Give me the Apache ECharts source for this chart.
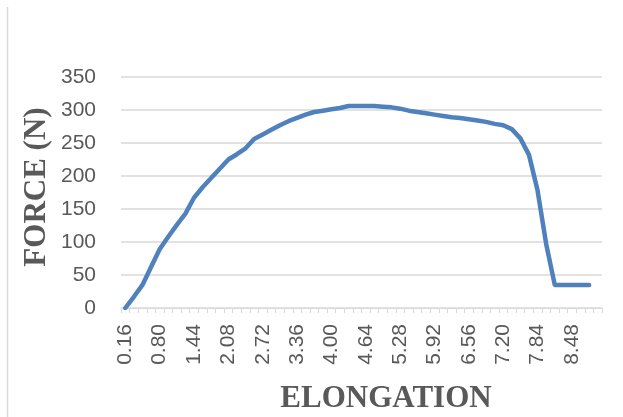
<!DOCTYPE html>
<html>
<head>
<meta charset="utf-8">
<script src="https://cdn.jsdelivr.net/npm/echarts@6/dist/echarts.min.js"></script>
<style>
html,body{margin:0;padding:0;background:#fff;}
#c{width:623px;height:417px;}
</style>
</head>
<body>
<div id="c"></div>
<script>
// Elongation categories (0.16 step), force values (N)
var elongationLabels = ["0.16","0.32","0.48","0.64","0.80","0.96","1.12","1.28","1.44","1.60","1.76","1.92","2.08","2.24","2.40","2.56","2.72","2.88","3.04","3.20","3.36","3.52","3.68","3.84","4.00","4.16","4.32","4.48","4.64","4.80","4.96","5.12","5.28","5.44","5.60","5.76","5.92","6.08","6.24","6.40","6.56","6.72","6.88","7.04","7.20","7.36","7.52","7.68","7.84","8.00","8.16","8.32","8.48","8.64","8.80","8.96"];
var force = [0,17,35,62,89,108,126,143,167,183,197,211,225,233,242,256,263,270,277,283,288,293,297,299,301,303,306,306,306,306,305,304,302,299,297,295,293,291,289,288,286,284,282,279,277,271,257,232,178,97,35,35,35,35,35,null];
var yTicks = [0,50,100,150,200,250,300,350];

var chart = echarts.init(document.getElementById('c'), null, {renderer:'canvas'});
var grey = '#595959';
chart.setOption({
  animation:false,
  backgroundColor:'#ffffff',
  grid:{left:121, right:21, top:77, bottom:109, containLabel:false},
  xAxis:{
    type:'category',
    data:elongationLabels,
    boundaryGap:true,
    axisLine:{show:true, lineStyle:{color:'#d9d9d9', width:1}},
    axisTick:{show:true, interval:0, length:5, lineStyle:{color:'#d9d9d9'}},
    axisLabel:{interval:3, rotate:90, margin:16, color:grey, fontFamily:'Liberation Sans', fontSize:21},
    splitLine:{show:false}
  },
  yAxis:{
    type:'value',
    min:yTicks[0], max:yTicks[yTicks.length-1], interval:50,
    axisLine:{show:false},
    axisTick:{show:false},
    axisLabel:{margin:25, color:grey, fontFamily:'Liberation Sans', fontSize:21},
    splitLine:{show:true, lineStyle:{color:'#d9d9d9', width:1.5}}
  },
  series:[{
    type:'line',
    data:force,
    showSymbol:false,
    symbol:'none',
    lineStyle:{color:'#4f81bd', width:4.5, cap:'round', join:'round'},
    connectNulls:false
  }],
  graphic:[
    {type:'line', shape:{x1:7.5, y1:7, x2:7.5, y2:417}, style:{stroke:'#d9d9d9', lineWidth:1.5}},
    {type:'text', x:386, y:399, style:{text:'ELONGATION', fill:grey, font:'bold 31px "Liberation Serif"', textAlign:'center', textVerticalAlign:'middle'}},
    {type:'text', x:37, y:187, rotation:Math.PI/2, style:{text:'FORCE (N)', fill:grey, font:'bold 31px "Liberation Serif"', textAlign:'center', textVerticalAlign:'middle'}}
  ]
});
</script>
</body>
</html>
